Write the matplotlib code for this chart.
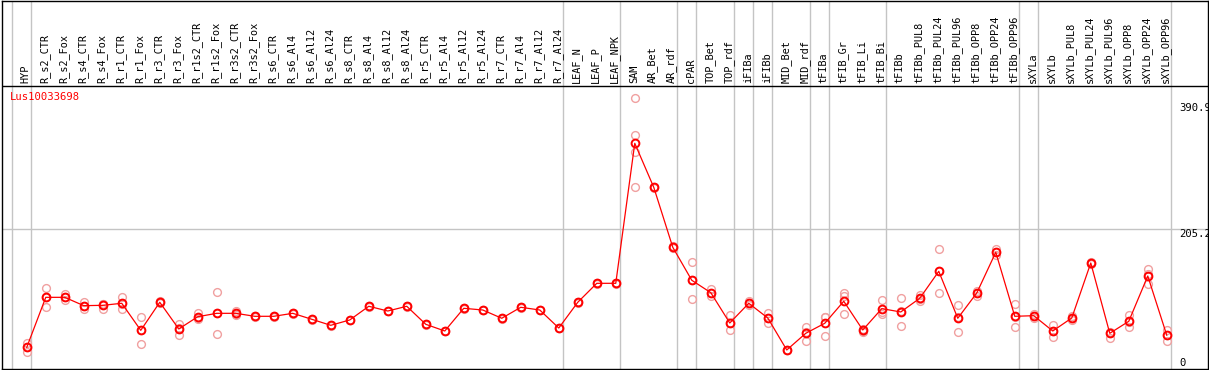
import matplotlib
matplotlib.use("Agg")
import matplotlib.pyplot as plt

# sample names, left to right
samples = [
    "HYP", "R_s2_CTR", "R_s2_Fox", "R_s4_CTR", "R_s4_Fox", "R_r1_CTR", "R_r1_Fox",
    "R_r3_CTR", "R_r3_Fox", "R_r1s2_CTR", "R_r1s2_Fox", "R_r3s2_CTR", "R_r3s2_Fox",
    "R_s6_CTR", "R_s6_Al4", "R_s6_Al12", "R_s6_Al24", "R_s8_CTR", "R_s8_Al4",
    "R_s8_Al12", "R_s8_Al24", "R_r5_CTR", "R_r5_Al4", "R_r5_Al12", "R_r5_Al24",
    "R_r7_CTR", "R_r7_Al4", "R_r7_Al12", "R_r7_Al24", "LEAF_N", "LEAF_P", "LEAF_NPK",
    "SAM", "AR_Bet", "AR_rdf", "cPAR", "TOP_Bet", "TOP_rdf", "iFIBa", "iFIBb",
    "MID_Bet", "MID_rdf", "tFIBa", "tFIB_Gr", "tFIB_Li", "tFIB_Bi", "tFIBb",
    "tFIBb_PUL8", "tFIBb_PUL24", "tFIBb_PUL96", "tFIBb_OPP8", "tFIBb_OPP24", "tFIBb_OPP96",
    "sXYLa", "sXYLb", "sXYLb_PUL8", "sXYLb_PUL24", "sXYLb_PUL96", "sXYLb_OPP8",
    "sXYLb_OPP24", "sXYLb_OPP96",
]

# mean expression per sample
means = [
    30.5, 104.3, 104.3, 92.0, 92.5, 95.5, 55.6, 97.0, 57.6, 75.7, 80.7, 80.7, 76.3,
    76.3, 80.7, 71.9, 63.0, 70.9, 91.1, 84.1, 91.1, 64.5, 54.6, 88.1, 85.6, 73.4,
    89.6, 85.6, 59.0, 97.0, 125.0, 125.0, 331.7, 266.7, 178.2, 129.5, 111.2, 66.4,
    95.5, 73.8, 26.6, 51.2, 66.0, 98.5, 56.1, 87.6, 82.7, 102.9, 142.7, 73.4, 110.7,
    170.8, 76.3, 77.2, 54.6, 73.8, 155.0, 51.2, 68.9, 135.8, 48.3,
]

# individual replicates per sample
replicates = [
    [36.4, 30.5, 24.0], [117.6, 104.3, 90.5], [109.2, 104.3, 100.4], [97.9, 91.5, 86.6],
    [94.5, 95.0, 87.6], [104.3, 95.0, 87.6], [75.7, 56.0, 35.0], [98.5, 97.0, 95.5],
    [65.0, 59.0, 48.7], [80.7, 74.5, 71.9], [111.7, 80.7, 49.7], [84.6, 79.3, 78.2],
    [77.0, 76.3, 75.6], [76.8, 76.3, 75.8], [81.2, 80.7, 80.2], [72.4, 71.9, 71.4],
    [63.5, 63.0, 62.5], [71.4, 70.9, 70.4], [91.6, 91.1, 90.6], [84.6, 84.1, 83.6],
    [91.6, 91.1, 90.6], [65.0, 64.5, 64.0], [55.1, 54.6, 54.1], [88.6, 88.1, 87.6],
    [86.1, 85.6, 85.1], [73.9, 73.4, 72.9], [90.1, 89.6, 89.1], [86.1, 85.6, 85.1],
    [59.5, 59.0, 58.5], [97.5, 97.0, 96.5], [125.5, 125.0, 124.5], [125.5, 125.0, 124.5],
    [398.0, 344.0, 319.3, 267.6], [267.2, 266.7, 266.2], [179.5, 178.2, 177.0],
    [156.0, 130.0, 102.3], [116.2, 111.2, 106.3], [77.8, 66.0, 55.6], [98.9, 95.5, 92.3],
    [81.6, 73.8, 66.0], [27.1, 26.6, 26.1], [61.0, 52.7, 39.9], [75.7, 75.5, 46.8],
    [111.2, 106.3, 79.3], [57.5, 55.0, 53.0], [100.4, 82.5, 79.7], [102.9, 83.6, 61.6],
    [108.2, 101.6, 98.9], [175.2, 142.7, 110.3], [92.6, 74.9, 52.7], [113.0, 110.7, 107.0],
    [175.2, 170.8, 166.4], [94.0, 74.9, 60.0], [80.0, 77.2, 74.4], [63.0, 54.6, 46.2],
    [77.0, 73.8, 70.4], [156.0, 155.0, 153.0], [53.5, 51.2, 44.3], [78.2, 68.0, 60.5],
    [145.7, 138.1, 123.6], [56.1, 49.4, 39.4],
]

# samples after which a vertical separator is drawn
group_ends = [-1, 0, 28, 31, 34, 35, 37, 38, 39, 41, 42, 45, 52, 53, 60]
tick_values = [390.9, 205.2, 0]
tick_labels = ["390.9", "205.2", "0"]
gene = "Lus10033698"

W, H = 1209, 370
RED = "#ff0000"
REP = "#f0a0a0"
GRID = "#c4c4c4"
FONT = "DejaVu Sans Mono"
HEADER_Y = 417      # data value where the label header starts
Y_TOP = 542.5

fig = plt.figure(figsize=(W / 100, H / 100), dpi=100)
ax = fig.add_axes([1.5 / W, 1 / H, 1206.5 / W, 368.5 / H])
ax.set_xlim(-1.33, 62.17)
ax.set_ylim(-1.5, Y_TOP)
ax.set_xticks([]); ax.set_yticks([])
for sp in ax.spines.values():
    sp.set_linewidth(1.0)
    sp.set_color("black")

# separators and the mid gridline
for g in group_ends:
    ax.axvline(g + 0.2, color=GRID, lw=1.0, zorder=1)
ax.plot([-1.33, 62.17], [tick_values[1]] * 2, color=GRID, lw=1.0, zorder=1)
ax.axhline(HEADER_Y, color="black", lw=1.0, zorder=2)

# replicates
for i, reps in enumerate(replicates):
    ax.plot([i] * len(reps), reps, ls="none", marker="o", ms=5.6, mfc="none",
            mec=REP, mew=1.0, zorder=3)

# mean line
x = list(range(len(samples)))
ax.plot(x, means, color=RED, lw=0.9, marker="o", ms=5.6, mfc="none",
        mec=RED, mew=1.4, zorder=4)

# header labels
for i, name in enumerate(samples):
    ax.text(i - 0.05, HEADER_Y + 3, name, rotation=90, ha="center", va="bottom",
            fontsize=7.4, family=FONT, color="black")

ax.text(-0.88, 408, gene, ha="left", va="top", fontsize=7.6, family=FONT, color=RED)

for v, lab in zip(tick_values, tick_labels):
    ax.text(60.65, v, lab, ha="left", va="bottom" if v == 0 else "top",
            fontsize=7.6, family=FONT, color="black", clip_on=True)

fig.savefig("out.png", dpi=100)
